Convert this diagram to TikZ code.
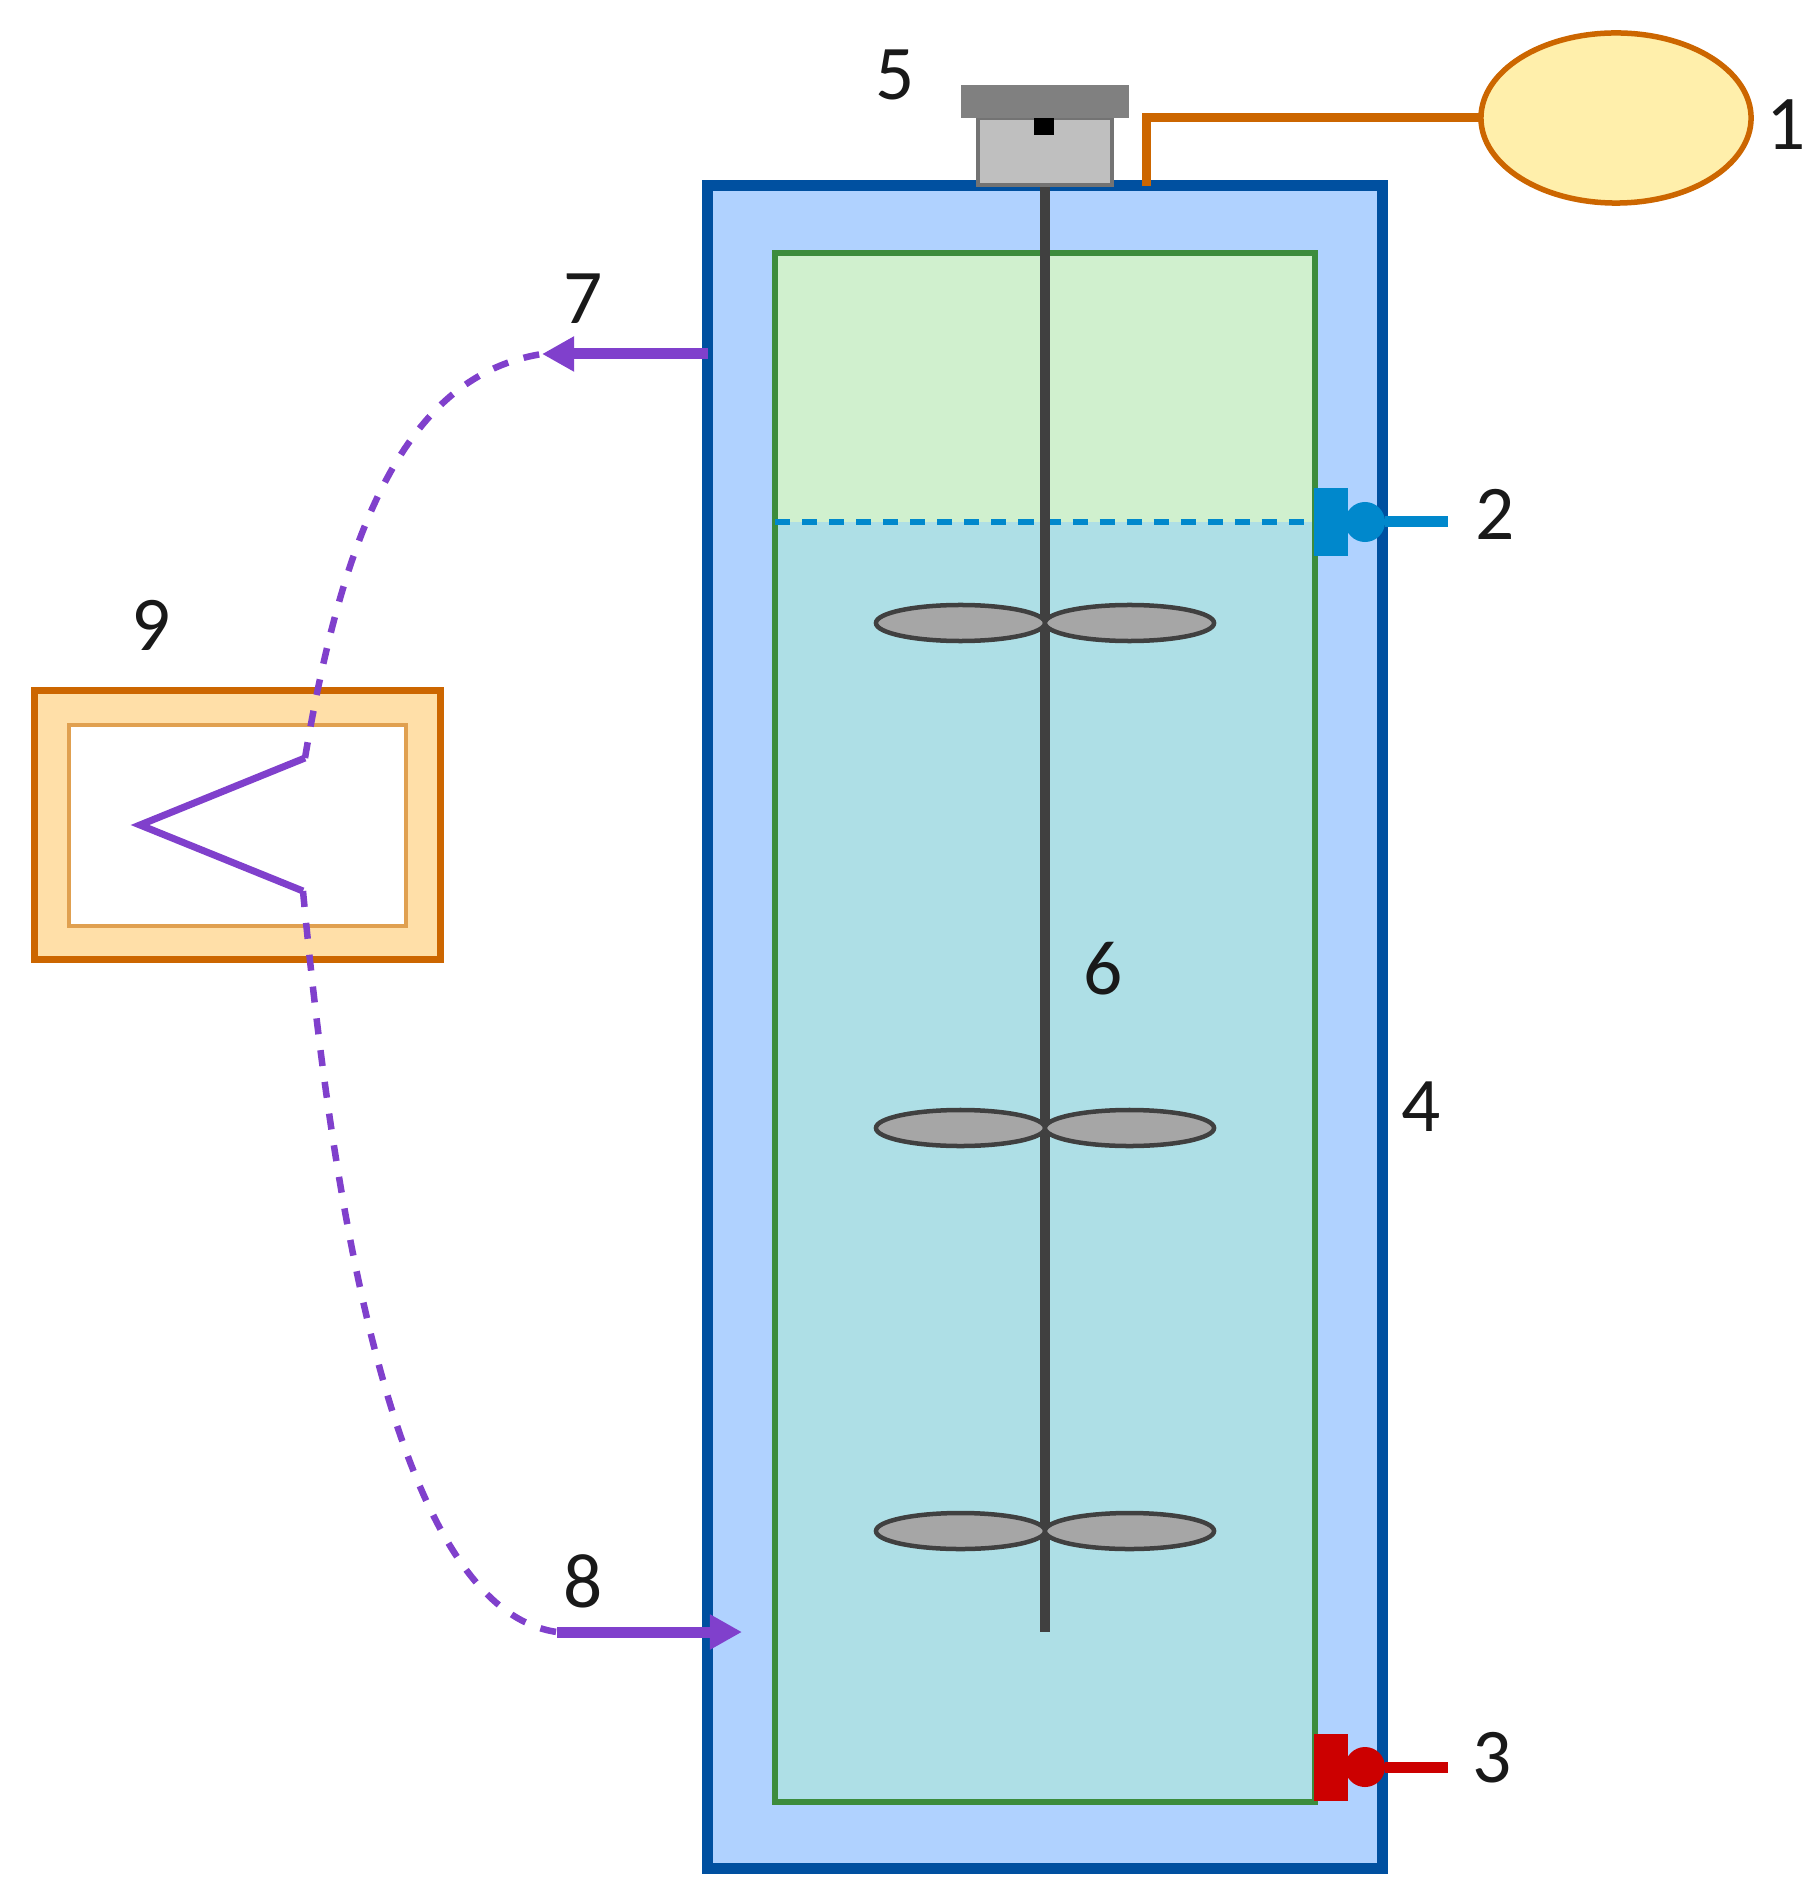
\documentclass[tikz,border=0pt]{standalone}
\usepackage{fontspec}
\setmainfont{Carlito}
\usetikzlibrary{arrows.meta,positioning,shapes.geometric,calc}
\definecolor{jacketblue}{HTML}{B0D2FF}
\definecolor{jacketline}{HTML}{0050A0}
\definecolor{vesselline}{HTML}{3C8C3C}
\definecolor{headgreen}{HTML}{D0F0CE}
\definecolor{liquidblue}{HTML}{AEDFE6}
\definecolor{gasorange}{HTML}{CC6600}
\definecolor{bagyellow}{HTML}{FFEFAB}
\definecolor{inletblue}{HTML}{0088CC}
\definecolor{outletred}{HTML}{CC0000}
\definecolor{flowpurple}{HTML}{8040CC}
\definecolor{pumpfill}{HTML}{FFDFA8}
\definecolor{pumpinner}{HTML}{E0A050}
\begin{document}
\begin{tikzpicture}[x=0.01cm,y=-0.01cm,font=\fontsize{22}{24}\selectfont,
  box/.style={draw,rectangle,outer sep=0pt,inner sep=0pt},
  blade/.style={draw=black!75,fill=black!35,ellipse,line width=0.045cm,minimum width=1.69cm,minimum height=0.36cm,inner sep=0pt,outer sep=0pt},
  num/.style={inner sep=0pt,text=black!90},
  port/.style={fill,rectangle,minimum width=0.34cm,minimum height=0.67cm,inner sep=0pt,outer sep=0pt},
  bulb/.style={fill,circle,minimum size=0.40cm,inner sep=0pt,outer sep=0pt},
  flow/.style={draw=flowpurple,line width=0.11cm,-{Triangle[length=0.32cm,width=0.33cm]},color=flowpurple},
  lead/.style={draw=flowpurple,line width=0.065cm,dash pattern=on 0.16cm off 0.16cm},
  >=Stealth]
  \useasboundingbox (0,0) rectangle (1818,1904);
  \node[box,draw=jacketline,fill=jacketblue,line width=0.11cm,minimum width=6.74cm,minimum height=16.82cm] (jacket) at (1045,1027) {};
  \node[box,fill=headgreen,draw=none,minimum width=5.39cm,minimum height=2.69cm] (head) at (1045,387.5) {};
  \node[box,fill=liquidblue,draw=none,minimum width=5.39cm,minimum height=12.80cm] (liquid) at (1045,1162) {};
  \node[box,draw=vesselline,line width=0.06cm,minimum width=5.39cm,minimum height=15.49cm] (vessel) at (1045,1027.5) {};
  \draw[inletblue,line width=0.06cm,dash pattern=on 0.15cm off 0.12cm] (head.south west) -- (head.south east);
  \coordinate (shafttip) at (1045,1632);
  \draw[black!75,line width=0.105cm] (1045,186) coordinate (shafttop) -- (shafttip);
  \foreach \y/\n in {623/a,1128/b,1531/c} {
    \node[blade] (left\n) at (960.5,\y) {};
    \node[blade] (right\n) at (1129.5,\y) {};
  }
  \node[box,draw=black!55,fill=black!25,line width=0.035cm,minimum width=1.34cm,minimum height=0.67cm] (motor) at (1045,151.5) {};
  \node[box,fill=black!50,draw=none,minimum width=1.67cm,minimum height=0.33cm] (lid) at (1045,101.5) {};
  \node[fill=black,minimum width=0.20cm,minimum height=0.17cm,inner sep=0pt] (shaftend) at (1044,126.5) {};
  \node[box,draw=gasorange,fill=bagyellow,ellipse,line width=0.055cm,minimum width=2.70cm,minimum height=1.70cm] (bag) at (1616,118) {};
  \coordinate (gasin) at (1146,186);
  \draw[gasorange,line width=0.09cm] (bag.west) -| (gasin);
  \node[port,fill=inletblue] (inport) at (1331,522) {};
  \node[bulb,fill=inletblue] (inbulb) at (1365,522) {};
  \coordinate (inend) at (1448,522);
  \draw[inletblue,line width=0.11cm] (inbulb) -- (inend);
  \node[port,fill=outletred] (outport) at (1331,1767) {};
  \node[bulb,fill=outletred] (outbulb) at (1365,1767) {};
  \coordinate (outend) at (1448,1767);
  \draw[outletred,line width=0.11cm] (outbulb) -- (outend);
  \node[box,draw=gasorange,fill=pumpfill,line width=0.07cm,minimum width=4.05cm,minimum height=2.68cm] (pump) at (237.5,825) {};
  \node[box,draw=pumpinner,fill=white,line width=0.045cm,minimum width=3.37cm,minimum height=2.01cm] (screen) at (237.5,825.5) {};
  \coordinate (vtip) at (140,825);
  \coordinate (vtop) at (305,758);
  \coordinate (vbot) at (303,891);
  \coordinate (outtip) at (542,354);
  \coordinate (rettail) at (557,1632);
  \coordinate (rettip) at (742,1632);
  \draw[flowpurple,line width=0.07cm] (vtop) -- (vtip) -- (vbot);
  \draw[lead] (vtop) .. controls (345,520) and (410,375) .. (outtip);
  \draw[lead] (vbot) .. controls (335,1230) and (400,1610) .. (rettail);
  \draw[flow] (jacket.west |- outtip) -- (outtip);
  \draw[flow] (rettail) -- (rettip);
  \node[num] (n1) at (1786,125) {1};
  \node[num] (n2) at (1495,514) {2};
  \node[num] (n3) at (1492,1758) {3};
  \node[num] (n4) at (1421,1107) {4};
  \node[num] (n5) at (895,75) {5};
  \node[num] (n6) at (1103,969) {6};
  \node[num] (n7) at (583,299) {7};
  \node[num] (n8) at (583,1581) {8};
  \node[num] (n9) at (151,625) {9};
\end{tikzpicture}
\end{document}
